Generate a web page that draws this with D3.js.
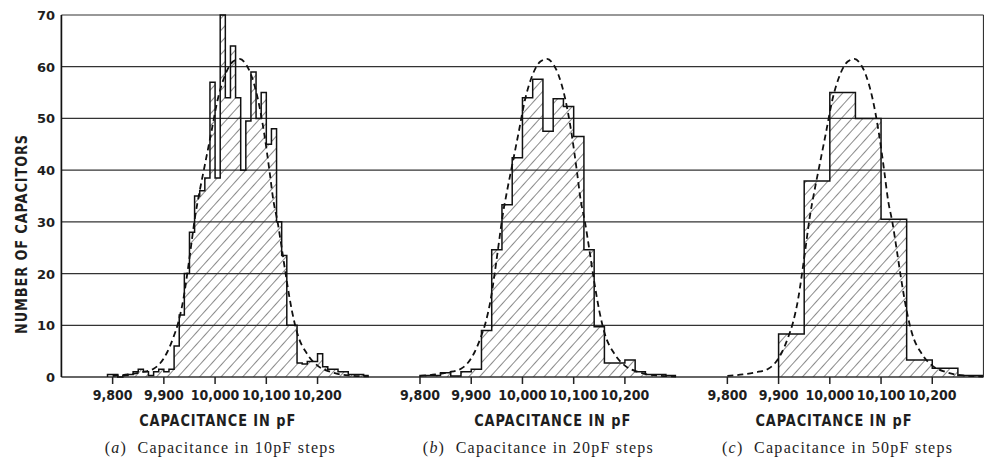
<!DOCTYPE html>
<html><head><meta charset="utf-8">
<script src="https://cdn.jsdelivr.net/npm/d3@7/dist/d3.min.js"></script>
<style>
html,body{margin:0;padding:0;background:#fff;}
svg{display:block;}
.lbl{font-family:"DejaVu Sans Condensed","DejaVu Sans",sans-serif;font-weight:bold;fill:#1e1e1e;}
.ylbl{font-family:"DejaVu Sans",sans-serif;font-weight:bold;fill:#1e1e1e;}
.cap{font-family:"Liberation Serif","DejaVu Serif",serif;fill:#1e1e1e;}
</style></head><body>
<svg id="chart" width="984" height="461"></svg>
<script>
// ---------------- data ----------------
const binWidthA = 10, binWidthB = 20, binWidthC = 50;
const binStartA = [9790,9800,9810,9820,9830,9840,9850,9860,9870,9880,9890,9900,9910,9920,9930,9940,9950,9960,9970,9980,9990,10000,10010,10020,10030,10040,10050,10060,10070,10080,10090,10100,10110,10120,10130,10140,10150,10160,10170,10180,10190,10200,10210,10220,10230,10240,10250,10260,10270,10280,10290];
const countsA   = [0.5,0.5,0,0.3,0.5,1,1.5,1,0.3,1,1.5,1,1.5,6,12,20,28,35,36,38.5,57,38.5,70,54,64,54,40,49.5,59,50,55,45,48,30,23.5,10,10,2.7,2.5,3,3,4.5,2,1.5,1.5,1,1,0.5,0.5,0.5,0.3];
const binStartB = [9800,9820,9840,9860,9880,9900,9920,9940,9960,9980,10000,10020,10040,10060,10080,10100,10120,10140,10160,10180,10200,10220,10240,10260,10280];
const countsB   = [0.3,0.3,0.8,0.2,1,1.5,9,24.6,33.3,42.4,54,57.6,47.5,53.8,52.3,46.5,24.6,9.7,2.7,2.7,3.3,1,0.5,0.5,0.3];
const binStartC = [9900,9950,10000,10050,10100,10150,10200,10250];
const countsC   = [8.3,37.9,55,50,30.5,3.3,1.7,0.3];
// fitted (dashed) curve
const curveX = [9800,9830,9855,9880,9905,9918,9928,9938,9945,9952,9961,9970,9980,9992,10005,10020,10035,10048,10060,10070,10083,10096,10106,10114,10122,10130,10140,10150,10160,10180,10200,10225,10260,10300];
const curveY = [0.2,0.5,0.9,1.6,4.5,7.5,10.5,15,19.5,24.5,31,36,41,47,53.6,58.5,61,61.5,60.5,58.5,54,47,40,34,30,25,18.5,12.8,8.6,4.4,2.2,1,0.3,0.1];
const xTicks = [9800,9900,10000,10100,10200];
const xTickLabels = ["9,800","9,900","10,000","10,100","10,200"];
const yTicks = [0,10,20,30,40,50,60,70];
const panelLetters = ["a","b","c"];
const captionTexts = ["Capacitance in 10pF steps","Capacitance in 20pF steps","Capacitance in 50pF steps"];
const xTitle = "CAPACITANCE IN pF";
const yTitle = "NUMBER OF CAPACITORS";

// ---------------- layout ----------------
const W = 984, H = 461;
const plotL = 61.4, plotR = 983.5, plotT = 15, plotB = 377;
const panelW = (plotR - plotL) / 3;
const xDomain = [9700, 10300];
const titleCenters = [10005, 10059, 10008];   // pF position of axis title centre
const captionCenters = [10009, 10030, 10014];

const svg = d3.select("#chart");
svg.append("rect").attr("width", W).attr("height", H).attr("fill", "#fff");

const defs = svg.append("defs");
const pat = defs.append("pattern").attr("id","hatch").attr("patternUnits","userSpaceOnUse")
  .attr("width",8).attr("height",8).attr("patternTransform","rotate(42)");
pat.append("line").attr("x1",0).attr("y1",-1).attr("x2",0).attr("y2",9)
  .attr("stroke","#2a2a2a").attr("stroke-width",1.1);

const y = d3.scaleLinear().domain([0,70]).range([plotB, plotT]);

// grid lines
svg.append("g").selectAll("line").data(yTicks).join("line")
  .attr("x1", plotL).attr("x2", plotR)
  .attr("y1", d => y(d)).attr("y2", d => y(d))
  .attr("stroke", "#333").attr("stroke-width", d => d === 0 ? 1.7 : 1.2);

const panels = [
  {starts: binStartA, counts: countsA, w: binWidthA},
  {starts: binStartB, counts: countsB, w: binWidthB},
  {starts: binStartC, counts: countsC, w: binWidthC}
];

panels.forEach((p, i) => {
  const x = d3.scaleLinear().domain(xDomain).range([plotL + i*panelW, plotL + (i+1)*panelW]);
  const g = svg.append("g");
  const clipId = "clip" + i;
  defs.append("clipPath").attr("id", clipId).append("rect")
    .attr("x", x.range()[0]).attr("y", 0).attr("width", panelW).attr("height", plotB + 1);

  // step outline points
  const pts = [[p.starts[0], 0]];
  p.starts.forEach((s, k) => { pts.push([s, p.counts[k]]); pts.push([s + p.w, p.counts[k]]); });
  pts.push([p.starts[p.starts.length-1] + p.w, 0]);
  const line = d3.line().x(d => x(d[0])).y(d => y(d[1]));
  g.append("path").attr("d", line(pts) + "Z").attr("fill", "url(#hatch)").attr("stroke", "none")
    .attr("clip-path", `url(#${clipId})`);
  g.append("path").attr("d", line(pts)).attr("fill", "none").attr("stroke", "#111")
    .attr("stroke-width", 1.5).attr("stroke-linejoin","miter").attr("clip-path", `url(#${clipId})`);

  // dashed curve
  const cl = d3.line().x((d,k) => x(curveX[k])).y(d => y(d)).curve(d3.curveMonotoneX);
  g.append("path").attr("d", cl(curveY)).attr("fill","none").attr("stroke","#111")
    .attr("stroke-width", 1.8).attr("stroke-dasharray","6,4").attr("clip-path", `url(#${clipId})`);

  // x ticks
  g.selectAll(".xt").data(xTicks).join("line")
    .attr("x1", d => x(d)).attr("x2", d => x(d)).attr("y1", plotB).attr("y2", plotB + 7)
    .attr("stroke", "#222").attr("stroke-width", 1.5);
  g.selectAll(".xl").data(xTicks).join("text").attr("class","lbl")
    .attr("x", d => x(d)).attr("y", 400).attr("text-anchor","middle").attr("font-size", 14)
    .text((d,k) => xTickLabels[k]);
  g.append("text").attr("class","lbl").attr("x", x(titleCenters[i])).attr("y", 426)
    .attr("text-anchor","middle").attr("font-size", 15.5).attr("letter-spacing", 1)
    .attr("textLength", 157).attr("lengthAdjust","spacingAndGlyphs").text(xTitle);
  const cap = g.append("text").attr("class","cap").attr("x", x(captionCenters[i])).attr("y", 453)
    .attr("text-anchor","middle").attr("font-size", 16)
    .attr("textLength", 230).attr("lengthAdjust","spacing");
  cap.append("tspan").text("(");
  cap.append("tspan").attr("font-style","italic").text(panelLetters[i]);
  cap.append("tspan").text(")\u00a0\u00a0" + captionTexts[i]);
});

// axes frame
svg.append("line").attr("x1", plotL).attr("x2", plotL).attr("y1", plotT).attr("y2", plotB)
  .attr("stroke","#111").attr("stroke-width",1.7);
svg.append("line").attr("x1", plotR).attr("x2", plotR).attr("y1", plotT).attr("y2", plotB)
  .attr("stroke","#333").attr("stroke-width",1.2);

// y labels
svg.append("g").selectAll("text").data(yTicks).join("text").attr("class","ylbl")
  .attr("x", 55).attr("y", d => y(d) + 5).attr("text-anchor","end").attr("font-size", 13)
  .text(d => d);
svg.append("text").attr("class","lbl").attr("transform", "translate(27,234) rotate(-90)")
  .attr("text-anchor","middle").attr("font-size", 16).attr("letter-spacing", 1)
  .attr("textLength", 200).attr("lengthAdjust","spacingAndGlyphs").text(yTitle);
</script>
</body></html>
